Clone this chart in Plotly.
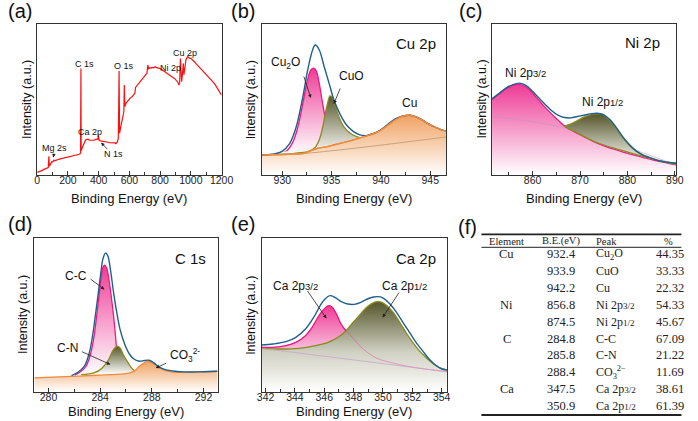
import plotly.graph_objects as go

W, H = 698, 421

# ---------------- (a) survey spectrum ----------------
a_x = [0, 8, 15, 22, 30, 40, 50, 58, 65, 72, 76, 79, 85, 90, 97, 100, 108, 118, 125, 133, 140, 150, 160, 172, 183, 195,
       205, 215, 225, 238, 250, 260, 268, 275, 279, 282, 284.6, 286, 290, 295, 300, 305, 310, 315, 320, 331, 340, 350,
       362, 374, 385, 395, 399, 403, 412, 420, 430, 438, 450, 460, 470, 480, 490, 500, 506, 512, 518, 522, 528, 533,
       536, 540, 548, 556, 564, 567, 570, 578, 590, 600, 607, 617, 625, 632, 636, 640, 650, 661, 672, 682, 692, 700,
       708, 714, 720, 726, 735, 742, 750, 758, 767, 774, 780, 790, 799, 807, 815, 822, 830, 838, 846, 854, 862, 870,
       878, 886, 894, 902, 910, 916, 922, 927, 932, 935, 940, 945, 951, 955, 960, 968, 979, 985, 990, 1000, 1008,
       1015, 1023, 1032, 1040, 1050, 1060, 1075, 1085, 1095, 1105, 1117, 1128, 1138, 1150, 1160, 1170, 1180, 1190, 1200]
a_y = [8, 9, 10, 12, 13, 16, 18, 19, 21, 22, 56, 26, 31, 35, 41, 38, 44, 43, 45, 46, 47, 48, 49, 50, 51, 52,
       53, 54, 55, 57, 58, 60, 61, 62, 64, 66, 319, 72, 78, 84, 89, 97, 104, 105, 106, 107, 104, 105,
       104, 105, 106, 108, 119, 104, 102, 101, 100, 99, 99, 98, 97, 97, 96, 95, 96, 94, 96, 99, 110, 311,
       125, 135, 159, 180, 190, 269, 205, 215, 222, 227, 231, 234, 238, 240, 245, 262, 268, 274, 280, 289, 294, 298,
       301, 304, 329, 318, 321, 320, 322, 321, 324, 322, 322, 320, 319, 317, 314, 311, 309, 307, 304, 301, 299, 296,
       294, 291, 289, 285, 282, 277, 269, 275, 349, 290, 279, 300, 334, 300, 325, 345, 354, 351, 350, 349, 346,
       344, 339, 334, 330, 325, 320, 314, 309, 305, 299, 294, 288, 282, 276, 269, 262, 254, 247, 239]
a_labels = ["C 1s", "O 1s", "Ni 2p", "Cu 2p", "Ca 2p", "N 1s", "Mg 2s"]

# ---------------- (b) Cu 2p ----------------
b_env_x = [927.95, 928.94, 929.93, 930.76, 931.42, 932.09, 932.58, 933.08, 933.34, 933.74, 934.24, 934.74, 935.23,
           935.89, 936.56, 937.22, 937.88, 938.54, 939.2, 939.87, 940.53, 941.19, 941.85, 942.52, 942.95, 943.51,
           944.17, 944.83, 945.5, 946.16, 946.66]
b_env_y = [60, 62, 70, 95, 145, 235, 315, 375, 389, 375, 325, 275, 225, 180, 148, 130, 120, 118, 124, 133, 147,
           163, 173, 178, 179, 175, 165, 153, 143, 135, 131]
b_cu2o_x = [927.95, 929.6, 930.43, 931.09, 931.59, 932.09, 932.52, 932.91, 933.18, 933.44, 933.71, 933.97, 934.3,
            934.74, 935.23, 935.89, 936.89]
b_cu2o_y = [60, 63, 72, 100, 145, 215, 280, 315, 320, 312, 280, 235, 180, 125, 90, 72, 65]
b_cuo_x = [927.95, 931.26, 932.58, 933.25, 933.74, 934.07, 934.4, 934.64, 934.83, 935.07, 935.4, 935.73, 936.23,
           936.89, 937.55, 938.21, 938.87]
b_cuo_y = [60, 65, 70, 80, 105, 140, 190, 220, 237, 232, 205, 175, 145, 125, 115, 110, 108]
b_cu_x = [927.95, 930.6, 932.25, 932.91, 933.58, 934.57, 935.89, 937.22, 938.54, 939.54, 940.53, 941.19, 941.85,
          942.52, 942.95, 943.51, 944.17, 944.83, 945.5, 946.16, 946.66]
b_cu_y = [60, 62, 65, 73, 80, 85, 95, 105, 117, 127, 145, 160, 172, 178, 179, 175, 165, 153, 143, 135, 131]
b_base_x = [927.95, 932.0, 946.66]
b_base_y = [60, 64, 114]

# ---------------- (c) Ni 2p ----------------
c_env_x = [851.44, 853.01, 854.38, 855.75, 857.12, 858.49, 859.86, 861.23, 862.6, 863.97, 865.34, 866.71, 868.08,
           869.45, 870.82, 872.19, 873.56, 874.93, 876.3, 877.67, 879.04, 880.41, 881.78, 883.15, 884.52, 885.89,
           887.26, 888.63, 890.3]
c_env_y = [228, 245, 260, 270, 275, 269, 252, 232, 212, 193, 179, 172, 171, 175, 179, 183, 185, 181, 166, 142,
           114, 91, 73, 61, 53, 46, 41, 38, 35]
c_p32_x = [851.44, 853.01, 854.38, 855.75, 857.12, 858.49, 859.86, 861.23, 862.6, 863.97, 865.34, 866.71, 868.77,
           870.82, 872.88, 874.93, 877.67, 880.41, 883.15, 885.89, 888.63, 890.3]
c_p32_y = [227, 243, 258, 268, 271, 265, 247, 225, 203, 183, 165, 147, 130, 115, 100, 88, 75, 63, 53, 43, 35, 30]
c_p12_x = [866.78, 868.08, 869.45, 870.82, 872.19, 873.56, 874.59, 875.62, 876.99, 878.36, 879.73, 881.1, 882.47,
           884.52, 886.58, 888.63, 890.3]
c_p12_y = [146, 153, 163, 173, 180, 183, 182, 173, 152, 125, 100, 79, 65, 52, 44, 38, 35]
c_p12_base_x = [890.3, 885.89, 881.78, 877.67, 872.88, 868.77, 866.78]
c_p12_base_y = [33, 46, 62, 78, 101, 131, 146]
c_base_x = [851.44, 866.78, 890.3]
c_base_y = [175, 141, 30]

# ---------------- (d) C 1s ----------------
d_env_x = [281.78, 282.28, 282.78, 283.16, 283.41, 283.66, 283.86, 284.04, 284.21, 284.41, 284.59, 284.79, 285.04,
           285.29, 285.54, 285.91, 286.29, 286.67, 287.04, 287.42, 287.79, 288.17, 288.55, 289.05, 289.8, 290.55,
           291.55, 293.08]
d_env_y = [49, 59, 77, 117, 167, 237, 297, 352, 397, 415, 407, 367, 297, 237, 187, 142, 112, 97, 92, 94, 95, 87,
           75, 67, 62, 60, 60, 62]
d_cc_x = [282.03, 282.53, 282.91, 283.28, 283.53, 283.73, 283.91, 284.09, 284.24, 284.34, 284.49, 284.66, 284.84,
          285.04, 285.19, 285.31, 285.44, 285.54]
d_cc_y = [50, 62, 77, 117, 167, 227, 287, 347, 375, 379, 372, 342, 292, 227, 167, 107, 62, 50]
d_cn_x = [282.53, 283.53, 284.16, 284.66, 285.04, 285.34, 285.54, 285.79, 286.17, 286.54, 287.04, 287.54]
d_cn_y = [52, 57, 72, 97, 127, 137, 132, 112, 87, 67, 55, 52]
d_co3_x = [278.92, 281.28, 283.78, 285.79, 286.29, 286.67, 287.04, 287.42, 287.67, 287.92, 288.3, 288.8, 289.3,
           290.05, 291.3, 293.08]
d_co3_y = [42, 46, 50, 54, 57, 63, 77, 87, 92, 89, 80, 68, 62, 59, 60, 62]

# ---------------- (e) Ca 2p ----------------
e_env_x = [341.73, 342.51, 343.39, 344.06, 344.72, 345.28, 345.72, 346.05, 346.38, 346.72, 347.16, 347.6, 348.04,
           348.49, 348.93, 349.37, 349.7, 350.04, 350.48, 350.92, 351.36, 351.81, 352.25, 352.69, 353.14, 353.58,
           354.02, 354.35]
e_env_y = [141, 144, 151, 164, 189, 224, 259, 279, 289, 284, 271, 264, 263, 269, 279, 285, 286, 281, 264, 239,
           209, 179, 149, 124, 99, 81, 69, 66]
e_p32_x = [341.73, 342.51, 343.39, 344.06, 344.72, 345.17, 345.5, 345.83, 346.16, 346.34, 346.54, 346.83, 347.11,
           347.38, 347.6, 347.93, 348.38, 348.93, 349.59, 350.48, 351.59, 352.69, 354.35]
e_p32_y = [134, 134, 139, 149, 169, 194, 219, 241, 256, 259, 254, 234, 207, 189, 179, 163, 140, 119, 101, 89, 78,
           70, 61]
e_p12_x = [341.73, 342.95, 344.28, 345.39, 346.27, 346.94, 347.49, 347.93, 348.38, 348.82, 349.26, 349.59, 349.93,
           350.26, 350.7, 351.14, 351.59, 352.03, 352.47, 352.91, 353.36, 353.8, 354.35]
e_p12_y = [131, 129, 131, 139, 149, 164, 184, 207, 229, 251, 266, 271, 269, 259, 239, 209, 177, 149, 124, 104, 87,
           74, 66]
e_base_x = [341.73, 354.35]
e_base_y = [131, 61]

# ---------------- (f) table ----------------
t_header = ["Element", "B.E.(eV)", "Peak", "%"]
t_element = ["Cu", "", "", "Ni", "", "C", "", "", "Ca", ""]
t_be = ["932.4", "933.9", "942.2", "856.8", "874.5", "284.8", "285.8", "288.4", "347.5", "350.9"]
t_peak = ["Cu<sub>2</sub>O", "CuO", "Cu", "Ni 2p<span style='font-size:9px'>3/2</span>",
          "Ni 2p<span style='font-size:9px'>1/2</span>", "C-C", "C-N", "CO<sub>3</sub><sup>2−</sup>",
          "Ca 2p<span style='font-size:9px'>3/2</span>", "Ca 2p<span style='font-size:9px'>1/2</span>"]
t_pct = ["44.35", "33.33", "22.32", "54.33", "45.67", "67.09", "21.22", "11.69", "38.61", "61.39"]

# ---------------- styling ----------------
BLUE = "#1f5f8e"
PINK = "#ec1a83"
PINK_F = "#ee3c96"
OLIVE = "#8a8a1c"
OLIVE_F = "#55562a"
ORANGE = "#f18b3a"
ORANGE_F = "#f0a262"
SANS = "Liberation Sans, Arial, sans-serif"
SERIF = "Liberation Serif, Times New Roman, serif"


def PX(x):
    return x / W


def PY(y):
    return 1 - y / H


fig = go.Figure()


def grad(c, start=None, stop=None, mid=None):
    cs = [[0, "rgba(255,255,255,1)"]]
    if mid:
        cs.append(mid)
    cs.append([1, c])
    d = dict(type="vertical", colorscale=cs)
    if start is not None:
        d["start"] = start
    if stop is not None:
        d["stop"] = stop
    return d


def line(x, y, color, ax, width=1.3, shape="spline", opacity=1.0):
    fig.add_trace(go.Scatter(x=x, y=y, mode="lines", line=dict(color=color, width=width, shape=shape),
                             opacity=opacity, xaxis="x" + ax, yaxis="y" + ax, showlegend=False, hoverinfo="skip"))


def fill(x, y, color, ax, fillmode, gradient, width=1.3):
    fig.add_trace(go.Scatter(x=x, y=y, mode="lines", line=dict(color=color, width=width, shape="spline"),
                             fill=fillmode, fillcolor=color, fillgradient=gradient,
                             xaxis="x" + ax, yaxis="y" + ax, showlegend=False, hoverinfo="skip"))


# (a)
line(a_x, a_y, "#ff1010", "", width=1.2, shape="linear")

# (b)
fill(b_cu2o_x, b_cu2o_y, PINK, "2", "toself", grad(PINK_F))
fill(b_cuo_x, b_cuo_y, OLIVE, "2", "toself", grad(OLIVE_F))
fill(b_cu_x, b_cu_y, ORANGE, "2", "tozeroy", grad(ORANGE_F, 0, 179))
line(b_base_x, b_base_y, "#c9a27c", "2", width=1)
line(b_env_x, b_env_y, BLUE, "2", width=1.4)
line(b_cu_x, b_cu_y, ORANGE, "2", width=1.4)

# (c)
fill(c_p32_x, c_p32_y, PINK, "3", "tozeroy", grad(PINK_F, 0, 271))
line(c_base_x, c_base_y, "rgba(190,150,185,0.6)", "3", width=1)
fill(c_p12_x + c_p12_base_x, c_p12_y + c_p12_base_y, OLIVE, "3", "toself", grad(OLIVE_F))
line(c_env_x, c_env_y, BLUE, "3", width=1.4)

# (d)
fill(d_cc_x, d_cc_y, PINK, "4", "toself", grad(PINK_F))
fill(d_cn_x, d_cn_y, OLIVE, "4", "toself", grad(OLIVE_F))
fill(d_co3_x, d_co3_y, ORANGE, "4", "tozeroy", grad(ORANGE_F, 0, 92))
line(d_env_x, d_env_y, BLUE, "4", width=1.4)

# (e)
fill(e_p32_x, e_p32_y, PINK, "5", "toself", grad(PINK_F))
fill(e_p12_x, e_p12_y, OLIVE, "5", "tozeroy", grad(OLIVE_F, 0, 271, [0.45, "#cfcfc2"]))
line(e_p32_x, e_p32_y, "rgba(236,26,131,0.35)", "5", width=1)
line(e_base_x, e_base_y, "rgba(200,160,200,0.7)", "5", width=1)
line(e_env_x, e_env_y, BLUE, "5", width=1.4)

# ---------------- axes ----------------
boxes = {
    "": (33, 222, 24, 175, [0, 1200], 200, 100, [0, 452]),
    "2": (263, 452, 24, 175, [927.9, 946.6], 5, 2.5, [0, 452]),
    "3": (499, 688, 24, 175, [851.4, 890.3], 10, 5, [0, 452]),
    "4": (30, 218, 238, 392, [278.9, 293.1], 4, 2, [0, 460]),
    "5": (263, 453, 238, 392, [341.73, 354.36], 2, 1, [0, 462]),
}
layout = dict(width=W, height=H, margin=dict(l=0, r=0, t=0, b=0), paper_bgcolor="white", plot_bgcolor="white",
              showlegend=False)
for k, (x0, x1, y0, y1, xr, dt, mdt, yr) in boxes.items():
    layout["xaxis" + k] = dict(domain=[PX(x0), PX(x1)], range=xr, anchor="y" + k, showline=True, mirror=True,
                               linecolor="#333", linewidth=1.3, ticks="inside", ticklen=4, tickcolor="#333",
                               dtick=dt, tick0=0, showgrid=False, zeroline=False, ticklabelstandoff=-5,
                               tickfont=dict(family=SANS, size=10.5, color="#222"),
                               minor=dict(ticks="inside", ticklen=2.5, dtick=mdt, tickcolor="#333", showgrid=False))
    layout["yaxis" + k] = dict(domain=[PY(y1), PY(y0)], range=yr, anchor="x" + k, showline=True, mirror=True,
                               linecolor="#333", linewidth=1.3, ticks="", showticklabels=False, showgrid=False,
                               zeroline=False)
fig.update_layout(**layout)

ann = []
shapes = []


def text(x, y, s, size, family=SANS, xanchor="center", color="#111"):
    ann.append(dict(x=PX(x), y=PY(y), xref="paper", yref="paper", text=s, showarrow=False,
                    font=dict(family=family, size=size, color=color), xanchor=xanchor, yanchor="middle"))


def arrow(tx, ty, hx, hy):
    ann.append(dict(x=PX(hx), y=PY(hy), xref="paper", yref="paper", text="", showarrow=True,
                    ax=tx - hx, ay=ty - hy, axref="pixel", ayref="pixel", arrowhead=2, arrowsize=0.9,
                    arrowwidth=0.8, arrowcolor="#222", standoff=0, startstandoff=0))


# panel letters
for s, x, y in [("(a)", 15, 11), ("(b)", 244, 11), ("(c)", 477, 11), ("(d)", 15, 224), ("(e)", 244, 224),
                ("(f)", 474, 227)]:
    text(x, y, s, 20)

# axis titles
for cx, ty, yx, yy in [(127.5, 198, 22, 99.5), (357.5, 198, 252, 99.5), (593.5, 198, 488, 99.5),
                       (124, 411, 18.5, 315), (358, 411, 252, 315)]:
    text(cx, ty, "Binding Energy (eV)", 13)
    ann.append(dict(x=PX(yx), y=PY(yy), xref="paper", yref="paper", text="Intensity (a.u.)", showarrow=False,
                    textangle=-90, font=dict(family=SANS, size=12.5, color="#111"), xanchor="center",
                    yanchor="middle"))

# (a) labels
for s, x, y in zip(a_labels, [81.5, 121.5, 169.5, 184, 87, 111, 51], [64.5, 66, 68, 53, 132, 154, 148]):
    text(x, y, s, 9)
arrow(106, 150.5, 98.5, 142.5)
arrow(50.5, 152, 49.5, 157.5)

# (b) labels
text(421, 43, "Cu 2p", 15)
text(287, 63.5, "Cu<sub>2</sub>O", 12)
text(355.5, 75.5, "CuO", 12)
text(415, 102.5, "Cu", 12)
arrow(306, 75, 313.5, 98)
arrow(344, 87, 337, 104)

# (c) labels
text(653, 42, "Ni 2p", 15)
text(533.5, 72.5, "Ni 2p<span style='font-size:9.5px'>3/2</span>", 12)
text(612, 101.5, "Ni 2p<span style='font-size:9.5px'>1/2</span>", 12)

# (d) labels
text(190, 258, "C 1s", 15)
text(73, 276, "C-C", 12)
text(64.5, 348, "C-N", 12)
text(185, 354.5, "CO<sub>3</sub><sup>2-</sup>", 12)
arrow(86.5, 278, 102, 289.5)
arrow(78, 351, 108, 364.5)
arrow(166.5, 362.5, 154.5, 368)

# (e) labels
text(421, 258, "Ca 2p", 15)
text(298, 286, "Ca 2p<span style='font-size:9.5px'>3/2</span>", 12)
text(409.5, 286, "Ca 2p<span style='font-size:9.5px'>1/2</span>", 12)
arrow(309.5, 289.5, 329.5, 318.5)
arrow(404.5, 291, 387, 317.5)

# (f) table
col_x = [514.5, 570, 604, 680]
for i, h in enumerate(t_header):
    text(col_x[i], 241, h, 10.5, family=SERIF, xanchor="left" if i == 2 else "center", color="#222")
for r in range(len(t_be)):
    yy = 254.3 + r * 16.86
    if t_element[r]:
        text(col_x[0], yy, t_element[r], 12.5, family=SERIF, color="#222")
    text(col_x[1], yy, t_be[r], 12.5, family=SERIF, color="#222")
    text(col_x[2], yy, t_peak[r], 12, family=SERIF, xanchor="left", color="#222")
    text(681.5, yy, t_pct[r], 12.5, family=SERIF, color="#222")
for y, w in [(234.3, 1.8), (247.3, 1.0), (415, 1.8)]:
    shapes.append(dict(type="line", xref="paper", yref="paper", x0=PX(488.3), x1=PX(693.3), y0=PY(y), y1=PY(y),
                       line=dict(color="#222", width=w)))

fig.update_layout(annotations=ann, shapes=shapes)
fig.write_html("out.html")
